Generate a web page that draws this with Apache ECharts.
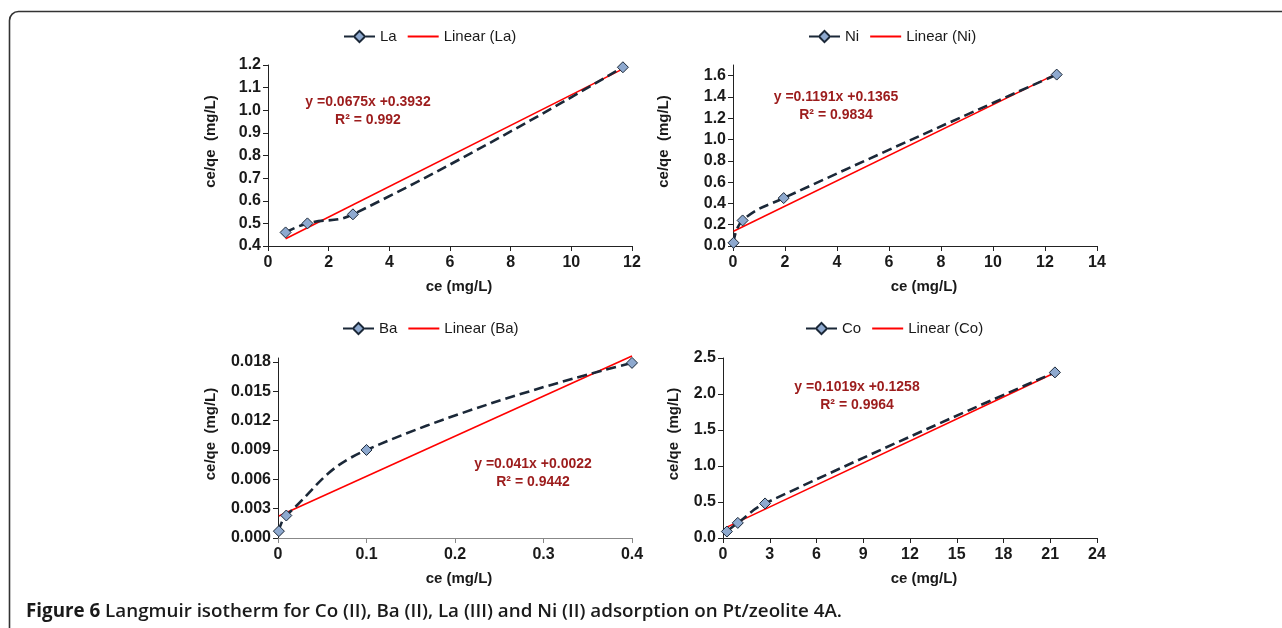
<!DOCTYPE html>
<html><head><meta charset="utf-8">
<script src="https://cdn.jsdelivr.net/npm/echarts@6/dist/echarts.min.js"></script>
<style>html,body{margin:0;padding:0;background:#fff}#c{width:1282px;height:628px}</style>
</head><body><div id="c"></div>
<script>
// ---- data ----
const laX = [0.58, 1.3, 2.8, 11.7];
const laY = [0.46, 0.50, 0.54, 1.19];
const laFitX = [0.58, 11.7];
const laFitY = [0.432, 1.183];

const niX = [0.02, 0.37, 1.95, 12.45];
const niY = [0.03, 0.24, 0.45, 1.61];
const niFitX = [0.02, 12.45];
const niFitY = [0.139, 1.619];

const baX = [0.001, 0.0094, 0.1, 0.4];
const baY = [0.0007, 0.0023, 0.009, 0.0179];
const baFitX = [0.001, 0.4];
const baFitY = [0.00224, 0.0186];

const coX = [0.25, 0.95, 2.7, 21.3];
const coY = [0.09, 0.21, 0.48, 2.30];
const coFitX = [0.25, 21.3];
const coFitY = [0.151, 2.296];

const names = ['La', 'Ni', 'Ba', 'Co'];
const eqTexts = [
  ['y =0.0675x +0.3932', 'R\u00b2 = 0.992'],
  ['y =0.1191x +0.1365', 'R\u00b2 = 0.9834'],
  ['y =0.041x +0.0022', 'R\u00b2 = 0.9442'],
  ['y =0.1019x +0.1258', 'R\u00b2 = 0.9964']
];
const caption = ['Figure 6', ' Langmuir isotherm for Co (II), Ba (II), La (III) and Ni (II) adsorption on Pt/zeolite 4A.'];

// ---- layout ----
const zip = (a, b) => a.map((v, i) => [v, b[i]]);
const panels = [
  {x: laX, y: laY, fx: laFitX, fy: laFitY, grid: {left: 268, top: 65, width: 364, height: 181},
   xa: {min: 0, max: 12, interval: 2}, ya: {min: 0.4, max: 1.2, interval: 0.1, dec: 1},
   legend: {left: 343, top: 29}, yGap: 50, xPad: 18, eq: [368, 102]},
  {x: niX, y: niY, fx: niFitX, fy: niFitY, grid: {left: 733, top: 65, width: 364, height: 181},
   xa: {min: 0, max: 14, interval: 2}, ya: {min: 0, max: 1.7, interval: 0.2, dec: 1, hideMax: true},
   legend: {left: 808, top: 29}, yGap: 62, xPad: 18, eq: [836, 97]},
  {x: baX, y: baY, fx: baFitX, fy: baFitY, grid: {left: 278, top: 358, width: 354, height: 180},
   xa: {min: 0, max: 0.4, interval: 0.1}, ya: {min: 0, max: 0.0184, interval: 0.003, dec: 3, hideMax: true},
   legend: {left: 342, top: 321}, yGap: 60, xPad: 8, eq: [533, 464], xColor: '#888'},
  {x: coX, y: coY, fx: coFitX, fy: coFitY, grid: {left: 723, top: 358, width: 374, height: 180},
   xa: {min: 0, max: 24, interval: 3}, ya: {min: 0, max: 2.5, interval: 0.5, dec: 1},
   legend: {left: 805, top: 321}, yGap: 42, xPad: 28, eq: [857, 387]}
];

const fam = 'Liberation Sans, Arial, sans-serif';
const tickFont = {fontFamily: fam, fontWeight: 'bold', fontSize: 16, color: '#1a1a1a'};
const nameFont = {fontFamily: fam, fontWeight: 'bold', fontSize: 15, color: '#1a1a1a'};
const grids = [], xAxes = [], yAxes = [], series = [], legends = [], graphics = [];

panels.forEach((p, i) => {
  grids.push(Object.assign({containLabel: false, outerBoundsMode: 'none'}, p.grid));
  xAxes.push({
    type: 'value', gridIndex: i, min: p.xa.min, max: p.xa.max, interval: p.xa.interval,
    name: 'ce (mg/L)', nameLocation: 'middle', nameGap: 33,
    nameTextStyle: Object.assign({padding: [0, 0, 0, p.xPad]}, nameFont),
    axisLine: {lineStyle: {color: p.xColor || '#222', width: 1}},
    axisTick: {show: true, inside: false, length: 5, lineStyle: {color: p.xColor || '#222'}},
    axisLabel: Object.assign({margin: 9, formatter: v => String(+v.toFixed(6))}, tickFont),
    splitLine: {show: false}
  });
  yAxes.push({
    type: 'value', gridIndex: i, min: p.ya.min, max: p.ya.max, interval: p.ya.interval,
    name: 'ce/qe  (mg/L)', nameLocation: 'middle', nameGap: p.yGap,
    nameTextStyle: Object.assign({padding: [0, 0, 0, 28]}, nameFont),
    axisLine: {show: true, lineStyle: {color: '#222', width: 1}},
    axisTick: {show: true, inside: false, length: 5, lineStyle: {color: '#222'}},
    axisLabel: Object.assign({margin: 7, showMaxLabel: !p.ya.hideMax, formatter: v => v.toFixed(p.ya.dec)}, tickFont),
    splitLine: {show: false}
  });
  series.push({
    name: names[i], type: 'line', xAxisIndex: i, yAxisIndex: i,
    data: zip(p.x, p.y), smooth: 0.45,
    symbol: 'diamond', symbolSize: 11,
    lineStyle: {color: '#1b2838', width: 2.6, type: [10, 5]},
    itemStyle: {color: '#8ea9cf', borderColor: '#1b2838', borderWidth: 1},
    z: 3
  });
  series.push({
    name: 'Linear (' + names[i] + ')', type: 'line', xAxisIndex: i, yAxisIndex: i,
    data: zip(p.fx, p.fy), symbol: 'none', clip: false,
    itemStyle: {color: '#ff0000'},
    lineStyle: {color: '#ff0000', width: 1.6}, z: 2
  });
  legends.push({
    data: [
      {name: names[i], lineStyle: {type: [9, 13]}},
      {name: 'Linear (' + names[i] + ')', itemStyle: {color: 'rgba(0,0,0,0)', borderWidth: 0, opacity: 0}}
    ],
    left: p.legend.left, top: p.legend.top,
    padding: 0, itemWidth: 31, itemHeight: 14, itemGap: 10,
    textStyle: {fontFamily: fam, fontSize: 15, color: '#1a1a1a'}
  });
  eqTexts[i].forEach((t, k) => {
    graphics.push({
      type: 'text', x: p.eq[0], y: p.eq[1] + k * 18,
      style: {text: t, fill: '#9c1c1c', font: 'bold 14px "Liberation Sans", Arial, sans-serif',
              textAlign: 'center', textVerticalAlign: 'middle'}
    });
  });
});

graphics.push({
  type: 'rect', shape: {x: 9.5, y: 11.5, width: 1320, height: 660, r: 9},
  style: {fill: 'none', stroke: '#333', lineWidth: 1.6}, z: -1
});
graphics.push({
  type: 'text', x: 26, y: 612,
  style: {
    text: '{b|' + caption[0] + '}{r|' + caption[1] + '}',
    textVerticalAlign: 'middle',
    rich: {
      b: {fontFamily: 'Open Sans, sans-serif', fontWeight: 'bold', fontSize: 18.8, fill: '#1a1a1a'},
      r: {fontFamily: 'Open Sans, sans-serif', fontWeight: 600, fontSize: 18.8, fill: '#1a1a1a'}
    }
  }
});

const chart = echarts.init(document.getElementById('c'), null, {renderer: 'canvas'});
chart.setOption({
  backgroundColor: '#fff', animation: false,
  grid: grids, xAxis: xAxes, yAxis: yAxes, series: series, legend: legends, graphic: graphics
});
</script></body></html>
